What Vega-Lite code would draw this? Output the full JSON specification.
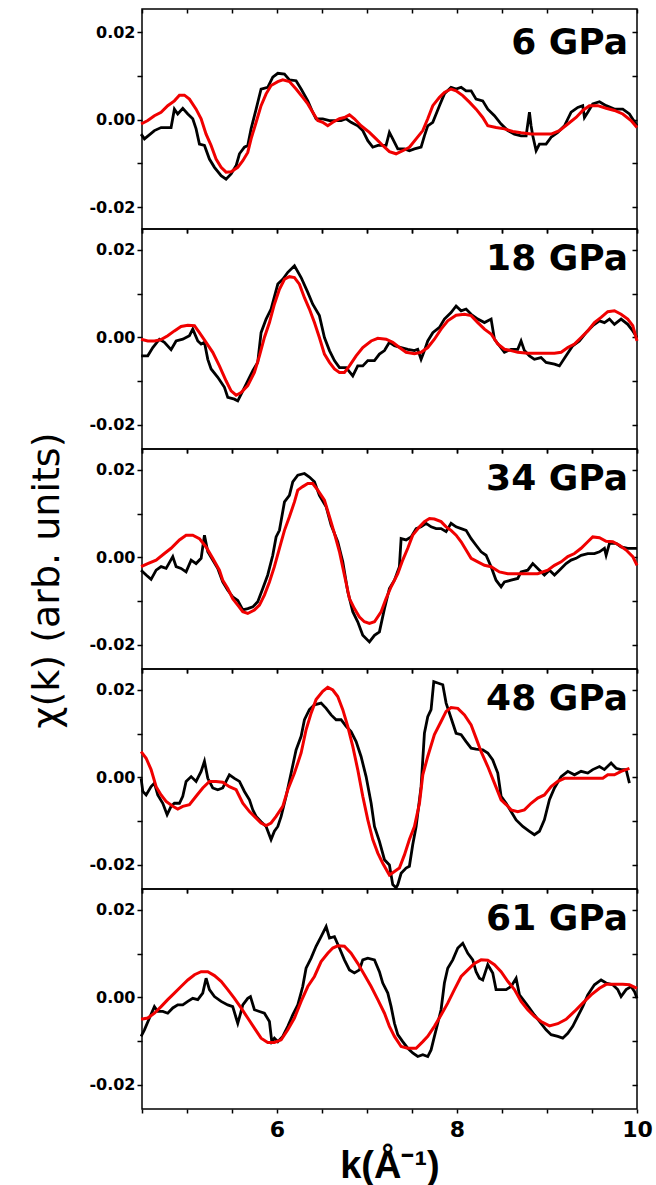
{
"$schema": "https://vega.github.io/schema/vega-lite/v6.json",
"background": "white",
"padding": {"left": 27, "top": 7, "right": 0, "bottom": 0},
"spacing": 0,
"bounds": "flush",
"config": {
  "view": {"stroke": "black", "strokeWidth": 1.5},
  "axis": {"tickColor": "black", "tickWidth": 1.5, "labelColor": "black", "labelFont": "DejaVu Sans", "labelFontWeight": "bold", "labelFontSize": 16, "labelFlush": false, "labelOverlap": false, "grid": false, "domain": false, "titleColor": "black"},
  "concat": {"spacing": 0}
},
"datasets": {
"d6": [{"k":4.490,"chi":-0.0033},{"k":4.527,"chi":-0.0044},{"k":4.638,"chi":-0.0025},{"k":4.712,"chi":-0.0018},{"k":4.823,"chi":-0.0018},{"k":4.860,"chi":0.0024},{"k":4.897,"chi":0.0013},{"k":4.953,"chi":0.0026},{"k":5.009,"chi":0.0013},{"k":5.064,"chi":0.0002},{"k":5.101,"chi":-0.0021},{"k":5.138,"chi":-0.0056},{"k":5.194,"chi":-0.0059},{"k":5.249,"chi":-0.0090},{"k":5.305,"chi":-0.0109},{"k":5.379,"chi":-0.0128},{"k":5.434,"chi":-0.0136},{"k":5.490,"chi":-0.0124},{"k":5.546,"chi":-0.0105},{"k":5.583,"chi":-0.0078},{"k":5.638,"chi":-0.0063},{"k":5.675,"chi":-0.0059},{"k":5.712,"chi":-0.0021},{"k":5.768,"chi":0.0024},{"k":5.823,"chi":0.0070},{"k":5.897,"chi":0.0074},{"k":5.953,"chi":0.0097},{"k":6.009,"chi":0.0106},{"k":6.083,"chi":0.0104},{"k":6.138,"chi":0.0091},{"k":6.212,"chi":0.0089},{"k":6.268,"chi":0.0070},{"k":6.342,"chi":0.0043},{"k":6.397,"chi":0.0017},{"k":6.434,"chi":0.0002},{"k":6.508,"chi":0.0002},{"k":6.583,"chi":-0.0002},{"k":6.638,"chi":-0.0002},{"k":6.712,"chi":-0.0002},{"k":6.768,"chi":0.0002},{"k":6.823,"chi":-0.0006},{"k":6.897,"chi":-0.0014},{"k":6.953,"chi":-0.0025},{"k":7.009,"chi":-0.0048},{"k":7.064,"chi":-0.0063},{"k":7.120,"chi":-0.0059},{"k":7.212,"chi":-0.0059},{"k":7.249,"chi":-0.0029},{"k":7.286,"chi":-0.0044},{"k":7.342,"chi":-0.0067},{"k":7.416,"chi":-0.0067},{"k":7.471,"chi":-0.0071},{"k":7.527,"chi":-0.0067},{"k":7.601,"chi":-0.0063},{"k":7.638,"chi":-0.0037},{"k":7.675,"chi":-0.0014},{"k":7.731,"chi":-0.0006},{"k":7.768,"chi":0.0013},{"k":7.805,"chi":0.0032},{"k":7.860,"chi":0.0059},{"k":7.934,"chi":0.0074},{"k":7.990,"chi":0.0070},{"k":8.046,"chi":0.0074},{"k":8.101,"chi":0.0066},{"k":8.157,"chi":0.0066},{"k":8.212,"chi":0.0047},{"k":8.286,"chi":0.0043},{"k":8.342,"chi":0.0024},{"k":8.416,"chi":0.0009},{"k":8.490,"chi":-0.0010},{"k":8.564,"chi":-0.0025},{"k":8.638,"chi":-0.0033},{"k":8.712,"chi":-0.0037},{"k":8.768,"chi":-0.0037},{"k":8.805,"chi":0.0017},{"k":8.823,"chi":-0.0014},{"k":8.842,"chi":-0.0037},{"k":8.879,"chi":-0.0071},{"k":8.916,"chi":-0.0056},{"k":8.990,"chi":-0.0056},{"k":9.046,"chi":-0.0040},{"k":9.120,"chi":-0.0029},{"k":9.194,"chi":-0.0014},{"k":9.268,"chi":0.0017},{"k":9.342,"chi":0.0028},{"k":9.397,"chi":0.0032},{"k":9.416,"chi":0.0005},{"k":9.453,"chi":0.0017},{"k":9.508,"chi":0.0036},{"k":9.583,"chi":0.0041},{"k":9.657,"chi":0.0032},{"k":9.749,"chi":0.0024},{"k":9.842,"chi":0.0024},{"k":9.916,"chi":0.0013},{"k":10.0,"chi":-0.0014}],
"f6": [{"k":4.490,"chi":-0.0010},{"k":4.564,"chi":-0.0002},{"k":4.638,"chi":0.0009},{"k":4.712,"chi":0.0017},{"k":4.786,"chi":0.0032},{"k":4.860,"chi":0.0043},{"k":4.916,"chi":0.0056},{"k":4.971,"chi":0.0056},{"k":5.027,"chi":0.0047},{"k":5.101,"chi":0.0024},{"k":5.157,"chi":0.0002},{"k":5.212,"chi":-0.0033},{"k":5.268,"chi":-0.0059},{"k":5.323,"chi":-0.0090},{"k":5.379,"chi":-0.0109},{"k":5.434,"chi":-0.0120},{"k":5.490,"chi":-0.0119},{"k":5.564,"chi":-0.0109},{"k":5.620,"chi":-0.0094},{"k":5.675,"chi":-0.0075},{"k":5.712,"chi":-0.0044},{"k":5.768,"chi":-0.0006},{"k":5.823,"chi":0.0032},{"k":5.879,"chi":0.0059},{"k":5.934,"chi":0.0078},{"k":6.009,"chi":0.0087},{"k":6.064,"chi":0.0091},{"k":6.138,"chi":0.0087},{"k":6.212,"chi":0.0070},{"k":6.286,"chi":0.0051},{"k":6.342,"chi":0.0036},{"k":6.397,"chi":0.0017},{"k":6.453,"chi":-0.0002},{"k":6.508,"chi":-0.0006},{"k":6.564,"chi":-0.0014},{"k":6.620,"chi":-0.0006},{"k":6.694,"chi":0.0002},{"k":6.749,"chi":0.0005},{"k":6.805,"chi":0.0011},{"k":6.860,"chi":0.0002},{"k":6.934,"chi":-0.0014},{"k":7.027,"chi":-0.0029},{"k":7.101,"chi":-0.0044},{"k":7.175,"chi":-0.0059},{"k":7.249,"chi":-0.0073},{"k":7.323,"chi":-0.0078},{"k":7.397,"chi":-0.0071},{"k":7.471,"chi":-0.0063},{"k":7.546,"chi":-0.0044},{"k":7.620,"chi":-0.0025},{"k":7.675,"chi":0.0002},{"k":7.731,"chi":0.0032},{"k":7.805,"chi":0.0051},{"k":7.860,"chi":0.0062},{"k":7.934,"chi":0.0070},{"k":7.990,"chi":0.0066},{"k":8.064,"chi":0.0055},{"k":8.138,"chi":0.0040},{"k":8.212,"chi":0.0024},{"k":8.286,"chi":0.0005},{"k":8.342,"chi":-0.0014},{"k":8.434,"chi":-0.0018},{"k":8.527,"chi":-0.0021},{"k":8.620,"chi":-0.0027},{"k":8.712,"chi":-0.0030},{"k":8.823,"chi":-0.0033},{"k":8.934,"chi":-0.0033},{"k":9.046,"chi":-0.0033},{"k":9.138,"chi":-0.0025},{"k":9.231,"chi":-0.0010},{"k":9.323,"chi":0.0005},{"k":9.397,"chi":0.0021},{"k":9.471,"chi":0.0032},{"k":9.564,"chi":0.0032},{"k":9.657,"chi":0.0026},{"k":9.749,"chi":0.0021},{"k":9.842,"chi":0.0013},{"k":9.934,"chi":-0.0002},{"k":10.0,"chi":-0.0018}],
"d18": [{"k":4.490,"chi":-0.0042},{"k":4.564,"chi":-0.0042},{"k":4.620,"chi":-0.0023},{"k":4.694,"chi":-0.0004},{"k":4.749,"chi":-0.0011},{"k":4.823,"chi":-0.0028},{"k":4.879,"chi":-0.0008},{"k":4.953,"chi":-0.0004},{"k":5.027,"chi":0.0004},{"k":5.064,"chi":0.0019},{"k":5.120,"chi":-0.0008},{"k":5.157,"chi":-0.0015},{"k":5.194,"chi":-0.0011},{"k":5.231,"chi":-0.0050},{"k":5.268,"chi":-0.0072},{"k":5.342,"chi":-0.0091},{"k":5.416,"chi":-0.0114},{"k":5.453,"chi":-0.0137},{"k":5.527,"chi":-0.0141},{"k":5.564,"chi":-0.0145},{"k":5.620,"chi":-0.0122},{"k":5.675,"chi":-0.0099},{"k":5.731,"chi":-0.0076},{"k":5.786,"chi":-0.0057},{"k":5.823,"chi":0.0011},{"k":5.879,"chi":0.0042},{"k":5.934,"chi":0.0065},{"k":6.009,"chi":0.0122},{"k":6.064,"chi":0.0133},{"k":6.120,"chi":0.0149},{"k":6.194,"chi":0.0164},{"k":6.268,"chi":0.0137},{"k":6.342,"chi":0.0103},{"k":6.397,"chi":0.0076},{"k":6.471,"chi":0.0050},{"k":6.527,"chi":0.0000},{"k":6.583,"chi":-0.0030},{"k":6.638,"chi":-0.0053},{"k":6.694,"chi":-0.0069},{"k":6.768,"chi":-0.0069},{"k":6.842,"chi":-0.0088},{"k":6.897,"chi":-0.0065},{"k":6.953,"chi":-0.0065},{"k":7.009,"chi":-0.0053},{"k":7.083,"chi":-0.0053},{"k":7.138,"chi":-0.0038},{"k":7.194,"chi":-0.0030},{"k":7.249,"chi":-0.0011},{"k":7.305,"chi":-0.0019},{"k":7.379,"chi":-0.0023},{"k":7.453,"chi":-0.0027},{"k":7.527,"chi":-0.0030},{"k":7.564,"chi":-0.0027},{"k":7.601,"chi":-0.0050},{"k":7.638,"chi":-0.0030},{"k":7.675,"chi":-0.0008},{"k":7.731,"chi":0.0011},{"k":7.805,"chi":0.0023},{"k":7.860,"chi":0.0042},{"k":7.934,"chi":0.0057},{"k":7.990,"chi":0.0072},{"k":8.046,"chi":0.0061},{"k":8.101,"chi":0.0065},{"k":8.157,"chi":0.0053},{"k":8.231,"chi":0.0042},{"k":8.305,"chi":0.0034},{"k":8.379,"chi":0.0042},{"k":8.416,"chi":-0.0004},{"k":8.471,"chi":-0.0019},{"k":8.527,"chi":-0.0034},{"k":8.601,"chi":-0.0027},{"k":8.675,"chi":-0.0027},{"k":8.712,"chi":-0.0008},{"k":8.749,"chi":-0.0030},{"k":8.805,"chi":-0.0042},{"k":8.860,"chi":-0.0050},{"k":8.934,"chi":-0.0046},{"k":8.990,"chi":-0.0057},{"k":9.083,"chi":-0.0061},{"k":9.138,"chi":-0.0065},{"k":9.212,"chi":-0.0042},{"k":9.286,"chi":-0.0019},{"k":9.360,"chi":-0.0008},{"k":9.434,"chi":0.0011},{"k":9.508,"chi":0.0027},{"k":9.583,"chi":0.0038},{"k":9.638,"chi":0.0034},{"k":9.694,"chi":0.0042},{"k":9.749,"chi":0.0030},{"k":9.823,"chi":0.0042},{"k":9.897,"chi":0.0030},{"k":9.953,"chi":0.0015},{"k":10.0,"chi":0.0}],
"f18": [{"k":4.490,"chi":-0.0004},{"k":4.564,"chi":-0.0008},{"k":4.638,"chi":-0.0008},{"k":4.712,"chi":-0.0005},{"k":4.786,"chi":0.0004},{"k":4.860,"chi":0.0015},{"k":4.934,"chi":0.0025},{"k":5.009,"chi":0.0028},{"k":5.083,"chi":0.0027},{"k":5.138,"chi":0.0011},{"k":5.212,"chi":-0.0011},{"k":5.286,"chi":-0.0034},{"k":5.360,"chi":-0.0065},{"k":5.434,"chi":-0.0099},{"k":5.490,"chi":-0.0122},{"k":5.546,"chi":-0.0132},{"k":5.601,"chi":-0.0126},{"k":5.675,"chi":-0.0110},{"k":5.749,"chi":-0.0080},{"k":5.805,"chi":-0.0042},{"k":5.860,"chi":0.0},{"k":5.916,"chi":0.0034},{"k":5.971,"chi":0.0076},{"k":6.027,"chi":0.0110},{"k":6.083,"chi":0.0133},{"k":6.138,"chi":0.0139},{"k":6.194,"chi":0.0137},{"k":6.249,"chi":0.0122},{"k":6.305,"chi":0.0091},{"k":6.360,"chi":0.0065},{"k":6.416,"chi":0.0034},{"k":6.471,"chi":0.0},{"k":6.527,"chi":-0.0038},{"k":6.583,"chi":-0.0057},{"k":6.638,"chi":-0.0072},{"k":6.694,"chi":-0.0080},{"k":6.749,"chi":-0.0080},{"k":6.805,"chi":-0.0065},{"k":6.879,"chi":-0.0042},{"k":6.953,"chi":-0.0023},{"k":7.046,"chi":-0.0008},{"k":7.120,"chi":-0.0002},{"k":7.212,"chi":-0.0004},{"k":7.286,"chi":-0.0011},{"k":7.360,"chi":-0.0023},{"k":7.434,"chi":-0.0034},{"k":7.527,"chi":-0.0037},{"k":7.601,"chi":-0.0034},{"k":7.675,"chi":-0.0023},{"k":7.749,"chi":-0.0004},{"k":7.823,"chi":0.0019},{"k":7.897,"chi":0.0038},{"k":7.990,"chi":0.0051},{"k":8.083,"chi":0.0053},{"k":8.157,"chi":0.0050},{"k":8.231,"chi":0.0034},{"k":8.305,"chi":0.0019},{"k":8.379,"chi":0.0008},{"k":8.453,"chi":-0.0015},{"k":8.527,"chi":-0.0027},{"k":8.601,"chi":-0.0030},{"k":8.675,"chi":-0.0034},{"k":8.786,"chi":-0.0036},{"k":8.934,"chi":-0.0036},{"k":9.083,"chi":-0.0036},{"k":9.157,"chi":-0.0034},{"k":9.231,"chi":-0.0023},{"k":9.305,"chi":-0.0015},{"k":9.379,"chi":0.0},{"k":9.453,"chi":0.0015},{"k":9.527,"chi":0.0034},{"k":9.601,"chi":0.0046},{"k":9.675,"chi":0.0059},{"k":9.749,"chi":0.0061},{"k":9.823,"chi":0.0053},{"k":9.897,"chi":0.0042},{"k":9.953,"chi":0.0027},{"k":10.0,"chi":-0.0008}],
"d34": [{"k":4.490,"chi":-0.0029},{"k":4.546,"chi":-0.0040},{"k":4.601,"chi":-0.0050},{"k":4.657,"chi":-0.0029},{"k":4.712,"chi":-0.0021},{"k":4.768,"chi":-0.0025},{"k":4.842,"chi":0.0002},{"k":4.879,"chi":-0.0021},{"k":4.934,"chi":-0.0025},{"k":4.990,"chi":-0.0033},{"k":5.046,"chi":-0.0006},{"k":5.101,"chi":-0.0014},{"k":5.157,"chi":-0.0002},{"k":5.194,"chi":0.0051},{"k":5.231,"chi":0.0013},{"k":5.286,"chi":-0.0006},{"k":5.342,"chi":-0.0025},{"k":5.397,"chi":-0.0056},{"k":5.453,"chi":-0.0075},{"k":5.508,"chi":-0.0090},{"k":5.564,"chi":-0.0098},{"k":5.620,"chi":-0.0120},{"k":5.675,"chi":-0.0117},{"k":5.731,"chi":-0.0113},{"k":5.786,"chi":-0.0101},{"k":5.842,"chi":-0.0071},{"k":5.897,"chi":-0.0040},{"k":5.953,"chi":0.0005},{"k":5.990,"chi":0.0047},{"k":6.027,"chi":0.0062},{"k":6.083,"chi":0.0127},{"k":6.138,"chi":0.0142},{"k":6.175,"chi":0.0173},{"k":6.231,"chi":0.0188},{"k":6.305,"chi":0.0192},{"k":6.360,"chi":0.0184},{"k":6.416,"chi":0.0173},{"k":6.471,"chi":0.0142},{"k":6.546,"chi":0.0116},{"k":6.601,"chi":0.0074},{"k":6.675,"chi":0.0036},{"k":6.731,"chi":-0.0010},{"k":6.786,"chi":-0.0078},{"k":6.842,"chi":-0.0124},{"k":6.897,"chi":-0.0147},{"k":6.953,"chi":-0.0178},{"k":7.027,"chi":-0.0193},{"k":7.083,"chi":-0.0178},{"k":7.138,"chi":-0.0170},{"k":7.194,"chi":-0.0117},{"k":7.249,"chi":-0.0071},{"k":7.305,"chi":-0.0052},{"k":7.360,"chi":-0.0021},{"k":7.379,"chi":0.0043},{"k":7.434,"chi":0.0040},{"k":7.490,"chi":0.0047},{"k":7.546,"chi":0.0066},{"k":7.601,"chi":0.0070},{"k":7.657,"chi":0.0078},{"k":7.712,"chi":0.0070},{"k":7.768,"chi":0.0066},{"k":7.823,"chi":0.0066},{"k":7.879,"chi":0.0059},{"k":7.934,"chi":0.0078},{"k":7.990,"chi":0.0070},{"k":8.046,"chi":0.0066},{"k":8.101,"chi":0.0062},{"k":8.157,"chi":0.0043},{"k":8.212,"chi":0.0028},{"k":8.268,"chi":0.0013},{"k":8.323,"chi":0.0005},{"k":8.379,"chi":-0.0021},{"k":8.434,"chi":-0.0052},{"k":8.490,"chi":-0.0067},{"k":8.527,"chi":-0.0056},{"k":8.601,"chi":-0.0052},{"k":8.675,"chi":-0.0048},{"k":8.712,"chi":-0.0033},{"k":8.786,"chi":-0.0029},{"k":8.842,"chi":-0.0014},{"k":8.897,"chi":-0.0025},{"k":8.971,"chi":-0.0040},{"k":9.027,"chi":-0.0029},{"k":9.083,"chi":-0.0040},{"k":9.138,"chi":-0.0029},{"k":9.212,"chi":-0.0014},{"k":9.268,"chi":-0.0006},{"k":9.323,"chi":-0.0002},{"k":9.379,"chi":0.0005},{"k":9.453,"chi":0.0009},{"k":9.527,"chi":0.0009},{"k":9.583,"chi":0.0013},{"k":9.638,"chi":0.0021},{"k":9.657,"chi":0.0005},{"k":9.694,"chi":0.0032},{"k":9.768,"chi":0.0032},{"k":9.823,"chi":0.0024},{"k":9.897,"chi":0.0021},{"k":10.0,"chi":0.0021}],
"f34": [{"k":4.490,"chi":-0.0021},{"k":4.564,"chi":-0.0014},{"k":4.657,"chi":-0.0006},{"k":4.749,"chi":0.0009},{"k":4.823,"chi":0.0021},{"k":4.916,"chi":0.0040},{"k":4.990,"chi":0.0051},{"k":5.064,"chi":0.0051},{"k":5.138,"chi":0.0043},{"k":5.212,"chi":0.0024},{"k":5.286,"chi":-0.0002},{"k":5.360,"chi":-0.0029},{"k":5.397,"chi":-0.0052},{"k":5.453,"chi":-0.0071},{"k":5.508,"chi":-0.0094},{"k":5.564,"chi":-0.0109},{"k":5.620,"chi":-0.0124},{"k":5.675,"chi":-0.0128},{"k":5.749,"chi":-0.0120},{"k":5.805,"chi":-0.0109},{"k":5.860,"chi":-0.0086},{"k":5.916,"chi":-0.0056},{"k":5.971,"chi":-0.0021},{"k":6.027,"chi":0.0021},{"k":6.083,"chi":0.0062},{"k":6.138,"chi":0.0093},{"k":6.194,"chi":0.0127},{"k":6.231,"chi":0.0154},{"k":6.286,"chi":0.0162},{"k":6.342,"chi":0.0169},{"k":6.397,"chi":0.0169},{"k":6.453,"chi":0.0154},{"k":6.527,"chi":0.0131},{"k":6.583,"chi":0.0093},{"k":6.638,"chi":0.0055},{"k":6.694,"chi":0.0013},{"k":6.749,"chi":-0.0040},{"k":6.805,"chi":-0.0094},{"k":6.860,"chi":-0.0117},{"k":6.916,"chi":-0.0136},{"k":6.971,"chi":-0.0147},{"k":7.027,"chi":-0.0151},{"k":7.083,"chi":-0.0147},{"k":7.157,"chi":-0.0124},{"k":7.212,"chi":-0.0094},{"k":7.268,"chi":-0.0067},{"k":7.342,"chi":-0.0037},{"k":7.397,"chi":-0.0006},{"k":7.453,"chi":0.0021},{"k":7.508,"chi":0.0051},{"k":7.583,"chi":0.0070},{"k":7.638,"chi":0.0082},{"k":7.694,"chi":0.0089},{"k":7.749,"chi":0.0088},{"k":7.823,"chi":0.0082},{"k":7.879,"chi":0.0070},{"k":7.934,"chi":0.0062},{"k":7.990,"chi":0.0051},{"k":8.046,"chi":0.0036},{"k":8.101,"chi":0.0017},{"k":8.157,"chi":-0.0002},{"k":8.231,"chi":-0.0010},{"k":8.305,"chi":-0.0018},{"k":8.379,"chi":-0.0021},{"k":8.471,"chi":-0.0033},{"k":8.564,"chi":-0.0037},{"k":8.675,"chi":-0.0037},{"k":8.786,"chi":-0.0037},{"k":8.897,"chi":-0.0037},{"k":9.009,"chi":-0.0029},{"k":9.083,"chi":-0.0018},{"k":9.157,"chi":-0.0010},{"k":9.231,"chi":0.0002},{"k":9.305,"chi":0.0009},{"k":9.379,"chi":0.0021},{"k":9.453,"chi":0.0036},{"k":9.508,"chi":0.0047},{"k":9.583,"chi":0.0045},{"k":9.657,"chi":0.0037},{"k":9.731,"chi":0.0036},{"k":9.805,"chi":0.0028},{"k":9.879,"chi":0.0017},{"k":9.953,"chi":0.0002},{"k":10.0,"chi":-0.0018}],
"d48": [{"k":4.490,"chi":-0.0002},{"k":4.509,"chi":-0.0032},{"k":4.546,"chi":-0.0040},{"k":4.601,"chi":-0.0021},{"k":4.638,"chi":-0.0013},{"k":4.675,"chi":-0.0040},{"k":4.731,"chi":-0.0059},{"k":4.779,"chi":-0.0085},{"k":4.823,"chi":-0.0066},{"k":4.860,"chi":-0.0059},{"k":4.916,"chi":-0.0059},{"k":4.953,"chi":-0.0043},{"k":4.990,"chi":-0.0009},{"k":5.046,"chi":0.0002},{"k":5.101,"chi":-0.0009},{"k":5.157,"chi":0.0014},{"k":5.194,"chi":0.0037},{"k":5.231,"chi":-0.0002},{"k":5.286,"chi":-0.0024},{"k":5.342,"chi":-0.0028},{"k":5.397,"chi":-0.0024},{"k":5.434,"chi":-0.0009},{"k":5.471,"chi":0.0006},{"k":5.527,"chi":-0.0002},{"k":5.583,"chi":-0.0009},{"k":5.638,"chi":-0.0032},{"k":5.694,"chi":-0.0051},{"k":5.731,"chi":-0.0074},{"k":5.768,"chi":-0.0089},{"k":5.823,"chi":-0.0101},{"k":5.879,"chi":-0.0112},{"k":5.934,"chi":-0.0142},{"k":5.971,"chi":-0.0123},{"k":6.009,"chi":-0.0112},{"k":6.046,"chi":-0.0089},{"k":6.101,"chi":-0.0043},{"k":6.157,"chi":0.0010},{"k":6.212,"chi":0.0063},{"k":6.268,"chi":0.0094},{"k":6.305,"chi":0.0132},{"k":6.360,"chi":0.0155},{"k":6.416,"chi":0.0166},{"k":6.490,"chi":0.0170},{"k":6.546,"chi":0.0158},{"k":6.601,"chi":0.0143},{"k":6.657,"chi":0.0132},{"k":6.712,"chi":0.0132},{"k":6.768,"chi":0.0117},{"k":6.823,"chi":0.0105},{"k":6.879,"chi":0.0082},{"k":6.934,"chi":0.0048},{"k":6.990,"chi":0.0002},{"k":7.046,"chi":-0.0059},{"k":7.083,"chi":-0.0112},{"k":7.138,"chi":-0.0146},{"k":7.194,"chi":-0.0188},{"k":7.249,"chi":-0.0200},{"k":7.286,"chi":-0.0245},{"k":7.323,"chi":-0.0252},{"k":7.342,"chi":-0.0245},{"k":7.379,"chi":-0.0219},{"k":7.434,"chi":-0.0207},{"k":7.471,"chi":-0.0203},{"k":7.508,"chi":-0.0154},{"k":7.546,"chi":-0.0112},{"k":7.601,"chi":-0.0021},{"k":7.638,"chi":0.0101},{"k":7.675,"chi":0.0139},{"k":7.712,"chi":0.0155},{"k":7.742,"chi":0.0219},{"k":7.786,"chi":0.0216},{"k":7.842,"chi":0.0212},{"k":7.879,"chi":0.0170},{"k":7.934,"chi":0.0136},{"k":7.990,"chi":0.0101},{"k":8.046,"chi":0.0098},{"k":8.101,"chi":0.0082},{"k":8.157,"chi":0.0067},{"k":8.212,"chi":0.0065},{"k":8.286,"chi":0.0063},{"k":8.342,"chi":0.0056},{"k":8.397,"chi":0.0040},{"k":8.453,"chi":0.0010},{"k":8.490,"chi":-0.0043},{"k":8.546,"chi":-0.0059},{"k":8.601,"chi":-0.0078},{"k":8.657,"chi":-0.0097},{"k":8.731,"chi":-0.0112},{"k":8.805,"chi":-0.0123},{"k":8.860,"chi":-0.0131},{"k":8.916,"chi":-0.0123},{"k":8.971,"chi":-0.0097},{"k":9.027,"chi":-0.0051},{"k":9.083,"chi":-0.0024},{"k":9.157,"chi":0.0002},{"k":9.231,"chi":0.0014},{"k":9.305,"chi":0.0006},{"k":9.379,"chi":0.0014},{"k":9.453,"chi":0.0010},{"k":9.508,"chi":0.0018},{"k":9.583,"chi":0.0025},{"k":9.638,"chi":0.0018},{"k":9.712,"chi":0.0033},{"k":9.768,"chi":0.0021},{"k":9.823,"chi":0.0018},{"k":9.879,"chi":0.0018},{"k":9.916,"chi":-0.0013}],
"f48": [{"k":4.490,"chi":0.0059},{"k":4.546,"chi":0.0044},{"k":4.601,"chi":0.0018},{"k":4.657,"chi":-0.0021},{"k":4.712,"chi":-0.0040},{"k":4.768,"chi":-0.0055},{"k":4.842,"chi":-0.0066},{"k":4.897,"chi":-0.0072},{"k":4.953,"chi":-0.0066},{"k":5.027,"chi":-0.0062},{"k":5.101,"chi":-0.0043},{"k":5.175,"chi":-0.0024},{"k":5.249,"chi":-0.0009},{"k":5.323,"chi":-0.0009},{"k":5.397,"chi":-0.0011},{"k":5.471,"chi":-0.0021},{"k":5.546,"chi":-0.0028},{"k":5.620,"chi":-0.0059},{"k":5.694,"chi":-0.0078},{"k":5.768,"chi":-0.0093},{"k":5.823,"chi":-0.0104},{"k":5.879,"chi":-0.0110},{"k":5.934,"chi":-0.0104},{"k":5.990,"chi":-0.0089},{"k":6.064,"chi":-0.0066},{"k":6.120,"chi":-0.0028},{"k":6.194,"chi":0.0010},{"k":6.268,"chi":0.0056},{"k":6.323,"chi":0.0109},{"k":6.379,"chi":0.0147},{"k":6.434,"chi":0.0178},{"k":6.508,"chi":0.0197},{"k":6.564,"chi":0.0206},{"k":6.620,"chi":0.0200},{"k":6.675,"chi":0.0185},{"k":6.731,"chi":0.0155},{"k":6.786,"chi":0.0117},{"k":6.842,"chi":0.0071},{"k":6.897,"chi":0.0018},{"k":6.953,"chi":-0.0043},{"k":7.009,"chi":-0.0097},{"k":7.064,"chi":-0.0142},{"k":7.120,"chi":-0.0173},{"k":7.175,"chi":-0.0196},{"k":7.249,"chi":-0.0223},{"k":7.305,"chi":-0.0215},{"k":7.360,"chi":-0.0207},{"k":7.416,"chi":-0.0177},{"k":7.471,"chi":-0.0142},{"k":7.527,"chi":-0.0112},{"k":7.583,"chi":-0.0059},{"k":7.620,"chi":0.0006},{"k":7.675,"chi":0.0048},{"k":7.749,"chi":0.0098},{"k":7.823,"chi":0.0128},{"k":7.879,"chi":0.0151},{"k":7.934,"chi":0.0160},{"k":8.009,"chi":0.0158},{"k":8.083,"chi":0.0143},{"k":8.157,"chi":0.0120},{"k":8.212,"chi":0.0090},{"k":8.268,"chi":0.0059},{"k":8.342,"chi":0.0025},{"k":8.416,"chi":-0.0013},{"k":8.490,"chi":-0.0051},{"k":8.546,"chi":-0.0062},{"k":8.601,"chi":-0.0074},{"k":8.675,"chi":-0.0078},{"k":8.749,"chi":-0.0074},{"k":8.823,"chi":-0.0059},{"k":8.897,"chi":-0.0047},{"k":8.971,"chi":-0.0040},{"k":9.046,"chi":-0.0021},{"k":9.120,"chi":-0.0009},{"k":9.194,"chi":-0.0002},{"k":9.305,"chi":-0.0002},{"k":9.416,"chi":-0.0002},{"k":9.527,"chi":-0.0002},{"k":9.620,"chi":-0.0002},{"k":9.675,"chi":0.0006},{"k":9.749,"chi":0.0006},{"k":9.823,"chi":0.0014},{"k":9.916,"chi":0.0021}],
"d61": [{"k":4.490,"chi":-0.0089},{"k":4.527,"chi":-0.0074},{"k":4.583,"chi":-0.0047},{"k":4.638,"chi":-0.0021},{"k":4.675,"chi":-0.0032},{"k":4.731,"chi":-0.0032},{"k":4.786,"chi":-0.0036},{"k":4.842,"chi":-0.0024},{"k":4.897,"chi":-0.0017},{"k":4.953,"chi":-0.0017},{"k":5.009,"chi":-0.0009},{"k":5.064,"chi":-0.0002},{"k":5.120,"chi":-0.0005},{"k":5.175,"chi":0.0010},{"k":5.212,"chi":0.0044},{"k":5.249,"chi":0.0018},{"k":5.305,"chi":0.0002},{"k":5.379,"chi":-0.0009},{"k":5.453,"chi":-0.0017},{"k":5.508,"chi":-0.0021},{"k":5.546,"chi":-0.0047},{"k":5.564,"chi":-0.0059},{"k":5.601,"chi":-0.0032},{"k":5.620,"chi":-0.0017},{"k":5.675,"chi":-0.0002},{"k":5.705,"chi":0.0002},{"k":5.749,"chi":-0.0028},{"k":5.805,"chi":-0.0032},{"k":5.860,"chi":-0.0036},{"k":5.916,"chi":-0.0055},{"k":5.942,"chi":-0.0101},{"k":5.971,"chi":-0.0093},{"k":6.009,"chi":-0.0101},{"k":6.064,"chi":-0.0089},{"k":6.120,"chi":-0.0066},{"k":6.175,"chi":-0.0040},{"k":6.231,"chi":-0.0017},{"k":6.286,"chi":0.0025},{"k":6.323,"chi":0.0067},{"k":6.379,"chi":0.0090},{"k":6.434,"chi":0.0117},{"k":6.490,"chi":0.0139},{"k":6.546,"chi":0.0162},{"k":6.583,"chi":0.0136},{"k":6.638,"chi":0.0139},{"k":6.694,"chi":0.0113},{"k":6.749,"chi":0.0086},{"k":6.805,"chi":0.0063},{"k":6.860,"chi":0.0056},{"k":6.916,"chi":0.0063},{"k":6.953,"chi":0.0086},{"k":7.009,"chi":0.0090},{"k":7.083,"chi":0.0086},{"k":7.138,"chi":0.0059},{"k":7.175,"chi":0.0033},{"k":7.231,"chi":0.0010},{"k":7.268,"chi":-0.0021},{"k":7.305,"chi":-0.0059},{"k":7.342,"chi":-0.0085},{"k":7.397,"chi":-0.0101},{"k":7.453,"chi":-0.0116},{"k":7.508,"chi":-0.0127},{"k":7.564,"chi":-0.0135},{"k":7.620,"chi":-0.0131},{"k":7.675,"chi":-0.0135},{"k":7.712,"chi":-0.0120},{"k":7.749,"chi":-0.0089},{"k":7.786,"chi":-0.0059},{"k":7.823,"chi":-0.0028},{"k":7.860,"chi":0.0033},{"k":7.897,"chi":0.0067},{"k":7.953,"chi":0.0086},{"k":8.009,"chi":0.0113},{"k":8.064,"chi":0.0124},{"k":8.120,"chi":0.0101},{"k":8.175,"chi":0.0086},{"k":8.212,"chi":0.0059},{"k":8.249,"chi":0.0044},{"k":8.286,"chi":0.0040},{"k":8.342,"chi":0.0075},{"k":8.397,"chi":0.0056},{"k":8.434,"chi":0.0018},{"k":8.490,"chi":0.0018},{"k":8.546,"chi":0.0018},{"k":8.601,"chi":0.0025},{"k":8.657,"chi":0.0044},{"k":8.694,"chi":0.0006},{"k":8.749,"chi":-0.0009},{"k":8.805,"chi":-0.0024},{"k":8.860,"chi":-0.0040},{"k":8.934,"chi":-0.0059},{"k":8.990,"chi":-0.0074},{"k":9.046,"chi":-0.0085},{"k":9.120,"chi":-0.0089},{"k":9.175,"chi":-0.0093},{"k":9.231,"chi":-0.0082},{"k":9.286,"chi":-0.0066},{"k":9.342,"chi":-0.0043},{"k":9.397,"chi":-0.0021},{"k":9.453,"chi":0.0006},{"k":9.527,"chi":0.0029},{"k":9.601,"chi":0.0040},{"k":9.657,"chi":0.0033},{"k":9.731,"chi":0.0029},{"k":9.786,"chi":0.0018},{"k":9.823,"chi":0.0002},{"k":9.879,"chi":0.0018},{"k":9.934,"chi":0.0025},{"k":9.971,"chi":0.0014},{"k":10.0,"chi":-0.0002}],
"f61": [{"k":4.490,"chi":-0.0050},{"k":4.564,"chi":-0.0047},{"k":4.638,"chi":-0.0036},{"k":4.712,"chi":-0.0021},{"k":4.786,"chi":-0.0005},{"k":4.860,"chi":0.0010},{"k":4.934,"chi":0.0025},{"k":5.009,"chi":0.0040},{"k":5.083,"chi":0.0052},{"k":5.157,"chi":0.0059},{"k":5.231,"chi":0.0059},{"k":5.305,"chi":0.0050},{"k":5.379,"chi":0.0037},{"k":5.453,"chi":0.0018},{"k":5.527,"chi":-0.0002},{"k":5.601,"chi":-0.0024},{"k":5.675,"chi":-0.0047},{"k":5.749,"chi":-0.0070},{"k":5.823,"chi":-0.0093},{"k":5.897,"chi":-0.0103},{"k":5.971,"chi":-0.0103},{"k":6.046,"chi":-0.0097},{"k":6.120,"chi":-0.0074},{"k":6.194,"chi":-0.0047},{"k":6.268,"chi":-0.0009},{"k":6.342,"chi":0.0025},{"k":6.416,"chi":0.0048},{"k":6.490,"chi":0.0082},{"k":6.564,"chi":0.0101},{"k":6.620,"chi":0.0113},{"k":6.675,"chi":0.0118},{"k":6.749,"chi":0.0117},{"k":6.823,"chi":0.0101},{"k":6.897,"chi":0.0078},{"k":6.971,"chi":0.0052},{"k":7.046,"chi":0.0025},{"k":7.120,"chi":-0.0005},{"k":7.194,"chi":-0.0036},{"k":7.249,"chi":-0.0066},{"k":7.305,"chi":-0.0089},{"k":7.379,"chi":-0.0112},{"k":7.453,"chi":-0.0116},{"k":7.546,"chi":-0.0116},{"k":7.620,"chi":-0.0101},{"k":7.675,"chi":-0.0089},{"k":7.749,"chi":-0.0066},{"k":7.823,"chi":-0.0040},{"k":7.897,"chi":-0.0013},{"k":7.971,"chi":0.0018},{"k":8.046,"chi":0.0048},{"k":8.120,"chi":0.0063},{"k":8.194,"chi":0.0078},{"k":8.268,"chi":0.0086},{"k":8.342,"chi":0.0085},{"k":8.416,"chi":0.0075},{"k":8.490,"chi":0.0059},{"k":8.564,"chi":0.0037},{"k":8.638,"chi":0.0018},{"k":8.712,"chi":-0.0009},{"k":8.786,"chi":-0.0028},{"k":8.860,"chi":-0.0043},{"k":8.934,"chi":-0.0055},{"k":9.027,"chi":-0.0065},{"k":9.120,"chi":-0.0060},{"k":9.212,"chi":-0.0050},{"k":9.305,"chi":-0.0032},{"k":9.397,"chi":-0.0013},{"k":9.490,"chi":0.0006},{"k":9.583,"chi":0.0021},{"k":9.657,"chi":0.0030},{"k":9.749,"chi":0.0030},{"k":9.842,"chi":0.0030},{"k":9.916,"chi":0.0029},{"k":10.0,"chi":0.0021}]
},
"vconcat": [
{"width": 495, "height": 220,
 "layer": [
  {"data": {"name": "d6"}, "mark": {"type": "line", "color": "black", "strokeWidth": 2.8},
   "encoding": {
    "x": {"field": "k", "type": "quantitative", "scale": {"domain": [4.5, 10], "nice": false, "zero": false}, "axis": {"values": [4.5,5,5.5,6,6.5,7,7.5,8,8.5,9,9.5,10], "labels": false, "tickSize": 4, "title": null}},
    "y": {"field": "chi", "type": "quantitative", "scale": {"domain": [-0.025, 0.0253], "nice": false, "zero": false}, "axis": {"values": [-0.02,-0.01,0,0.01,0.02], "tickSize": 5, "labelPadding": 2, "labelExpr": "datum.value > 0.015 ? '0.02' : datum.value < -0.015 ? '-0.02' : abs(datum.value) < 0.001 ? '0.00' : ''", "title": null}}}},
  {"data": {"name": "f6"}, "mark": {"type": "line", "color": "#f00000", "strokeWidth": 3},
   "encoding": {
    "x": {"field": "k", "type": "quantitative", "scale": {"domain": [4.5, 10], "nice": false, "zero": false}, "axis": {"orient": "top", "values": [4.5,5,5.5,6,6.5,7,7.5,8,8.5,9,9.5,10], "labels": false, "tickSize": 4, "offset": -4, "title": null}},
    "y": {"field": "chi", "type": "quantitative", "scale": {"domain": [-0.025, 0.0253], "nice": false, "zero": false}, "axis": {"orient": "right", "values": [-0.02,-0.01,0,0.01,0.02], "labels": false, "tickSize": 5, "offset": -5, "title": null}}}},
  {"data": {"values": [{"label": "6 GPa"}]}, "mark": {"type": "text", "align": "right", "baseline": "alphabetic", "font": "DejaVu Sans", "fontWeight": "bold", "fontSize": 36, "color": "black"},
   "encoding": {
    "x": {"datum": 9.9, "type": "quantitative", "scale": {"domain": [4.5, 10], "nice": false, "zero": false}, "axis": null},
    "y": {"datum": 0.0150, "type": "quantitative", "scale": {"domain": [-0.025, 0.0253], "nice": false, "zero": false}, "axis": null},
    "text": {"field": "label"}}}
 ],
 "resolve": {"axis": {"x": "independent", "y": "independent"}}},
{"width": 495, "height": 220,
 "layer": [
  {"data": {"name": "d18"}, "mark": {"type": "line", "color": "black", "strokeWidth": 2.8},
   "encoding": {
    "x": {"field": "k", "type": "quantitative", "scale": {"domain": [4.5, 10], "nice": false, "zero": false}, "axis": {"values": [4.5,5,5.5,6,6.5,7,7.5,8,8.5,9,9.5,10], "labels": false, "tickSize": 4, "title": null}},
    "y": {"field": "chi", "type": "quantitative", "scale": {"domain": [-0.0255, 0.0248], "nice": false, "zero": false}, "axis": {"values": [-0.02,-0.01,0,0.01,0.02], "tickSize": 5, "labelPadding": 2, "labelExpr": "datum.value > 0.015 ? '0.02' : datum.value < -0.015 ? '-0.02' : abs(datum.value) < 0.001 ? '0.00' : ''", "title": null}}}},
  {"data": {"name": "f18"}, "mark": {"type": "line", "color": "#f00000", "strokeWidth": 3},
   "encoding": {
    "x": {"field": "k", "type": "quantitative", "scale": {"domain": [4.5, 10], "nice": false, "zero": false}, "axis": {"orient": "top", "values": [4.5,5,5.5,6,6.5,7,7.5,8,8.5,9,9.5,10], "labels": false, "tickSize": 4, "offset": -4, "title": null}},
    "y": {"field": "chi", "type": "quantitative", "scale": {"domain": [-0.0255, 0.0248], "nice": false, "zero": false}, "axis": {"orient": "right", "values": [-0.02,-0.01,0,0.01,0.02], "labels": false, "tickSize": 5, "offset": -5, "title": null}}}},
  {"data": {"values": [{"label": "18 GPa"}]}, "mark": {"type": "text", "align": "right", "baseline": "alphabetic", "font": "DejaVu Sans", "fontWeight": "bold", "fontSize": 36, "color": "black"},
   "encoding": {
    "x": {"datum": 9.9, "type": "quantitative", "scale": {"domain": [4.5, 10], "nice": false, "zero": false}, "axis": null},
    "y": {"datum": 0.0154, "type": "quantitative", "scale": {"domain": [-0.0255, 0.0248], "nice": false, "zero": false}, "axis": null},
    "text": {"field": "label"}}}
 ],
 "resolve": {"axis": {"x": "independent", "y": "independent"}}},
{"width": 495, "height": 220,
 "layer": [
  {"data": {"name": "d34"}, "mark": {"type": "line", "color": "black", "strokeWidth": 2.8},
   "encoding": {
    "x": {"field": "k", "type": "quantitative", "scale": {"domain": [4.5, 10], "nice": false, "zero": false}, "axis": {"values": [4.5,5,5.5,6,6.5,7,7.5,8,8.5,9,9.5,10], "labels": false, "tickSize": 4, "title": null}},
    "y": {"field": "chi", "type": "quantitative", "scale": {"domain": [-0.0255, 0.0248], "nice": false, "zero": false}, "axis": {"values": [-0.02,-0.01,0,0.01,0.02], "tickSize": 5, "labelPadding": 2, "labelExpr": "datum.value > 0.015 ? '0.02' : datum.value < -0.015 ? '-0.02' : abs(datum.value) < 0.001 ? '0.00' : ''", "title": "χ(k) (arb. units)", "titleFont": "DejaVu Sans", "titleFontSize": 38, "titleFontWeight": "normal", "titleX": -76, "titleY": 131, "titleAngle": 270, "titleBaseline": "bottom", "titleAlign": "center"}}}},
  {"data": {"name": "f34"}, "mark": {"type": "line", "color": "#f00000", "strokeWidth": 3},
   "encoding": {
    "x": {"field": "k", "type": "quantitative", "scale": {"domain": [4.5, 10], "nice": false, "zero": false}, "axis": {"orient": "top", "values": [4.5,5,5.5,6,6.5,7,7.5,8,8.5,9,9.5,10], "labels": false, "tickSize": 4, "offset": -4, "title": null}},
    "y": {"field": "chi", "type": "quantitative", "scale": {"domain": [-0.0255, 0.0248], "nice": false, "zero": false}, "axis": {"orient": "right", "values": [-0.02,-0.01,0,0.01,0.02], "labels": false, "tickSize": 5, "offset": -5, "title": null}}}},
  {"data": {"values": [{"label": "34 GPa"}]}, "mark": {"type": "text", "align": "right", "baseline": "alphabetic", "font": "DejaVu Sans", "fontWeight": "bold", "fontSize": 36, "color": "black"},
   "encoding": {
    "x": {"datum": 9.9, "type": "quantitative", "scale": {"domain": [4.5, 10], "nice": false, "zero": false}, "axis": null},
    "y": {"datum": 0.0154, "type": "quantitative", "scale": {"domain": [-0.0255, 0.0248], "nice": false, "zero": false}, "axis": null},
    "text": {"field": "label"}}}
 ],
 "resolve": {"axis": {"x": "independent", "y": "independent"}}},
{"width": 495, "height": 220,
 "layer": [
  {"data": {"name": "d48"}, "mark": {"type": "line", "color": "black", "strokeWidth": 2.8},
   "encoding": {
    "x": {"field": "k", "type": "quantitative", "scale": {"domain": [4.5, 10], "nice": false, "zero": false}, "axis": {"values": [4.5,5,5.5,6,6.5,7,7.5,8,8.5,9,9.5,10], "labels": false, "tickSize": 4, "title": null}},
    "y": {"field": "chi", "type": "quantitative", "scale": {"domain": [-0.0255, 0.0248], "nice": false, "zero": false}, "axis": {"values": [-0.02,-0.01,0,0.01,0.02], "tickSize": 5, "labelPadding": 2, "labelExpr": "datum.value > 0.015 ? '0.02' : datum.value < -0.015 ? '-0.02' : abs(datum.value) < 0.001 ? '0.00' : ''", "title": null}}}},
  {"data": {"name": "f48"}, "mark": {"type": "line", "color": "#f00000", "strokeWidth": 3},
   "encoding": {
    "x": {"field": "k", "type": "quantitative", "scale": {"domain": [4.5, 10], "nice": false, "zero": false}, "axis": {"orient": "top", "values": [4.5,5,5.5,6,6.5,7,7.5,8,8.5,9,9.5,10], "labels": false, "tickSize": 4, "offset": -4, "title": null}},
    "y": {"field": "chi", "type": "quantitative", "scale": {"domain": [-0.0255, 0.0248], "nice": false, "zero": false}, "axis": {"orient": "right", "values": [-0.02,-0.01,0,0.01,0.02], "labels": false, "tickSize": 5, "offset": -5, "title": null}}}},
  {"data": {"values": [{"label": "48 GPa"}]}, "mark": {"type": "text", "align": "right", "baseline": "alphabetic", "font": "DejaVu Sans", "fontWeight": "bold", "fontSize": 36, "color": "black"},
   "encoding": {
    "x": {"datum": 9.9, "type": "quantitative", "scale": {"domain": [4.5, 10], "nice": false, "zero": false}, "axis": null},
    "y": {"datum": 0.0154, "type": "quantitative", "scale": {"domain": [-0.0255, 0.0248], "nice": false, "zero": false}, "axis": null},
    "text": {"field": "label"}}}
 ],
 "resolve": {"axis": {"x": "independent", "y": "independent"}}},
{"width": 495, "height": 220,
 "layer": [
  {"data": {"name": "d61"}, "mark": {"type": "line", "color": "black", "strokeWidth": 2.8},
   "encoding": {
    "x": {"field": "k", "type": "quantitative", "scale": {"domain": [4.5, 10], "nice": false, "zero": false}, "axis": {"values": [4.5,5,5.5,6,6.5,7,7.5,8,8.5,9,9.5,10], "tickSize": 4, "labelPadding": 6, "labelFontSize": 22, "labelExpr": "datum.value == 6 ? '6' : datum.value == 8 ? '8' : datum.value == 10 ? '10' : ''", "title": "k(Å⁻¹)", "titleFont": "Liberation Sans", "titleFontWeight": "bold", "titleFontSize": 38, "titlePadding": 7}},
    "y": {"field": "chi", "type": "quantitative", "scale": {"domain": [-0.0255, 0.0248], "nice": false, "zero": false}, "axis": {"values": [-0.02,-0.01,0,0.01,0.02], "tickSize": 5, "labelPadding": 2, "labelExpr": "datum.value > 0.015 ? '0.02' : datum.value < -0.015 ? '-0.02' : abs(datum.value) < 0.001 ? '0.00' : ''", "title": null}}}},
  {"data": {"name": "f61"}, "mark": {"type": "line", "color": "#f00000", "strokeWidth": 3},
   "encoding": {
    "x": {"field": "k", "type": "quantitative", "scale": {"domain": [4.5, 10], "nice": false, "zero": false}, "axis": {"orient": "top", "values": [4.5,5,5.5,6,6.5,7,7.5,8,8.5,9,9.5,10], "labels": false, "tickSize": 4, "offset": -4, "title": null}},
    "y": {"field": "chi", "type": "quantitative", "scale": {"domain": [-0.0255, 0.0248], "nice": false, "zero": false}, "axis": {"orient": "right", "values": [-0.02,-0.01,0,0.01,0.02], "labels": false, "tickSize": 5, "offset": -5, "title": null}}}},
  {"data": {"values": [{"label": "61 GPa"}]}, "mark": {"type": "text", "align": "right", "baseline": "alphabetic", "font": "DejaVu Sans", "fontWeight": "bold", "fontSize": 36, "color": "black"},
   "encoding": {
    "x": {"datum": 9.9, "type": "quantitative", "scale": {"domain": [4.5, 10], "nice": false, "zero": false}, "axis": null},
    "y": {"datum": 0.0154, "type": "quantitative", "scale": {"domain": [-0.0255, 0.0248], "nice": false, "zero": false}, "axis": null},
    "text": {"field": "label"}}}
 ],
 "resolve": {"axis": {"x": "independent", "y": "independent"}}}
]
}
